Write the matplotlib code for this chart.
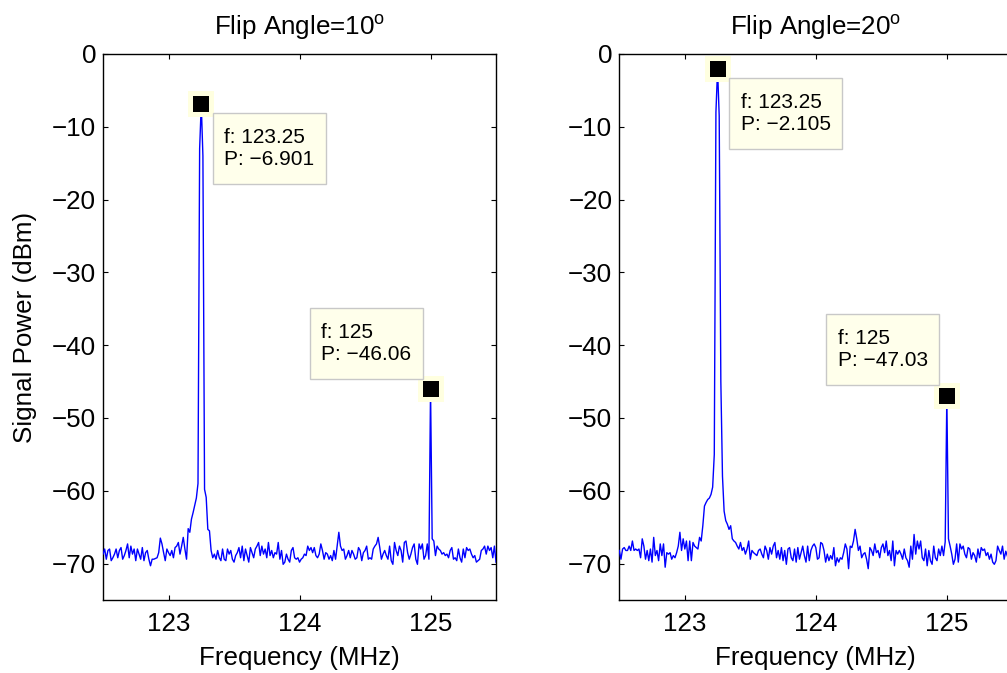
import numpy as np
import matplotlib
matplotlib.use('Agg')
import matplotlib.pyplot as plt

plt.rcParams['font.family'] = ['Liberation Sans', 'DejaVu Sans']
plt.rcParams['mathtext.fontset'] = 'custom'
plt.rcParams['mathtext.rm'] = 'Liberation Sans'

# spectrum analyser sweep, 122.5 - 125.5 MHz, 241 points
freq = np.linspace(122.5, 125.5, 241)

power_10 = [
    -68.7,
    -68.0, -69.4, -68.2, -68.0, -69.6, -69.2, -68.7, -68.0, -69.2, -68.2,
    -67.8, -69.4, -68.9, -68.2, -67.3, -69.2, -67.6, -68.7, -68.0, -69.6,
    -68.0, -68.7, -69.4, -67.8, -69.6, -68.5, -68.2, -69.4, -70.3, -69.4,
    -69.4, -69.3, -69.2, -68.5, -66.5, -67.3, -68.5, -69.6, -68.0, -68.5,
    -68.9, -68.2, -69.2, -67.8, -67.6, -67.1, -68.7, -67.6, -66.4, -68.0,
    -69.4, -65.2, -65.7, -63.9, -63.0,
    -62.0, -61.0, -59.0, -13.0, -6.901, -14.0, -59.8, -60.9, -65.3, -65.5, -68.2,
    -69.2, -68.7, -69.4, -68.2, -69.2, -69.6, -68.0, -69.4, -69.6, -68.0,
    -68.7, -68.2, -69.4, -69.8, -68.9, -68.5, -67.8, -69.2, -67.6, -69.6,
    -68.0, -68.9, -69.8, -67.8, -68.5, -69.2, -68.0, -67.6, -67.1, -68.9,
    -67.6, -68.7, -68.0, -69.2, -67.1, -68.9, -68.2, -69.2, -68.5, -68.7,
    -67.1, -69.4, -68.2, -70.1, -69.8, -68.7, -69.4, -69.8, -68.2, -67.8,
    -69.2, -69.4, -69.2,
    -69.8, -69.4, -69.2, -68.7, -68.9, -67.6, -68.2, -67.8, -68.5, -67.8,
    -68.9, -69.2, -68.7, -67.3, -68.2, -69.4, -68.5, -68.7, -69.4, -68.9,
    -69.6, -68.2, -69.4, -67.6, -65.7, -67.6, -68.2, -68.0, -69.4, -68.9,
    -68.2, -69.2, -68.2, -68.7, -69.4, -69.2, -67.8, -68.2, -69.6, -68.5,
    -68.2, -67.6, -69.4, -69.2, -69.4, -68.0, -67.6, -67.3, -66.4, -67.8,
    -69.4, -68.7, -68.2, -68.9, -69.4, -67.6, -69.6, -70.1, -67.1, -68.2,
    -68.9, -67.6, -68.2, -69.8, -67.1, -66.9, -68.5, -69.4, -68.7, -67.8,
    -67.3, -69.4, -70.1, -67.3, -68.0, -67.3, -69.4,
    -68.9, -67.3, -69.4, -46.06,
    -66.6, -66.9, -68.9, -67.6, -68.0, -68.2, -68.7, -68.5, -68.9, -68.7,
    -69.2, -68.2, -67.8, -69.4, -69.2, -69.6, -68.0, -69.2, -69.8, -68.0,
    -69.2, -67.8, -68.2, -68.0, -68.7, -69.2, -68.9, -69.8, -69.6, -69.4,
    -68.2, -68.0, -67.6, -68.7, -67.6, -68.2, -67.8, -69.2, -67.6, -69.8,
]

power_20 = [
    -68.2, -69.4, -68.0, -67.8, -68.2, -68.2, -67.6, -68.2, -66.9, -68.2,
    -68.0, -68.2, -68.0, -69.2, -66.6, -67.6, -69.4, -68.2, -69.6, -68.0,
    -69.8, -66.4, -68.9, -68.2, -69.6, -67.3, -68.9, -67.3, -70.5, -68.5,
    -68.7, -68.5, -69.4, -68.9, -69.2, -68.5, -67.6, -65.7, -68.2, -66.6,
    -68.0, -66.9, -69.6, -66.9, -69.6, -67.1, -67.6, -67.8, -68.0, -66.4,
    -66.9, -64.8, -62.1, -61.6, -61.2,
    -61.0, -60.5, -59.5, -55.0, -8.0, -2.105, -8.5, -45.0, -58.0, -62.8,
    -64.1, -64.6, -65.3, -64.8, -66.6,
    -66.9, -67.1, -67.6, -68.0, -67.1, -68.2, -67.8, -68.7, -68.0, -66.9,
    -69.4, -68.2, -68.5, -68.7, -68.9, -68.2, -68.0, -68.7, -69.2, -67.6,
    -68.2, -69.4, -67.8, -68.7, -67.6, -67.1, -69.2, -68.2, -69.4, -67.8,
    -69.6, -68.2, -70.1, -68.0, -67.8, -69.2, -69.6, -68.0, -69.8, -67.8,
    -69.4, -68.5, -67.6, -68.9, -69.8, -67.6, -69.6, -68.2, -67.6, -67.3,
    -67.8, -69.4, -69.2, -67.1, -67.3, -68.2, -69.8, -68.7, -69.6, -68.9,
    -69.4, -67.8, -70.3, -69.2, -69.8, -69.2, -69.4, -68.5, -67.3, -68.0,
    -70.7, -67.6, -67.8, -66.9, -65.3, -66.6, -68.2, -67.6, -69.2, -68.7,
    -68.5, -69.4, -70.7, -67.8, -68.2, -68.9, -67.3, -68.5, -68.2, -69.2,
    -67.8, -67.3, -68.5, -66.9, -68.9, -68.2, -69.6, -66.9, -70.3, -68.2,
    -68.7, -68.2, -68.7, -69.4, -68.0, -69.2, -69.6, -70.5, -67.6, -69.4,
    -66.0, -68.7, -66.9, -68.0, -66.9, -69.2, -69.6, -68.0, -70.3, -68.2,
    -69.6, -70.1, -67.6, -69.2, -69.6, -68.0, -68.9, -67.6,
    -68.9, -67.0, -47.03, -66.6,
    -67.6, -68.7, -70.1, -69.4, -67.3, -69.8, -67.3, -68.0, -67.6, -68.7,
    -69.2, -67.8, -68.0, -69.4, -68.5, -68.9, -69.8, -68.0, -69.2, -67.8,
    -68.2, -68.0, -68.9, -68.5, -69.4, -68.7, -69.8, -70.1, -69.6, -67.6,
    -68.2, -68.7, -67.6, -69.4,
    -68.3, -69.0, -67.9, -68.6, -69.3,
]

titles = ['Flip Angle=10$^{\\mathrm{o}}$', 'Flip Angle=20$^{\\mathrm{o}}$']
# (freq index, text offset in pixels from the marker)
tips = [[(60, (23, -24)), (200, (-19, 25))],
        [(60, (23, -24)), (200, (-19, 26))]]

fig = plt.figure(figsize=(10.07, 6.73), dpi=100)
ax1 = fig.add_axes([0.1023, 0.1085, 0.3903, 0.8113])
ax2 = fig.add_axes([0.615, 0.1085, 0.3903, 0.8113])


def datatip(ax, f, p, offset):
    ax.plot(f, p, 's', ms=19.4, mew=0, color='#FFFFE0', zorder=4)
    ax.plot(f, p, 's', ms=11.5, mew=0, color='black', zorder=5)
    label = 'f: %g\nP: %s' % (f, ('%.4g' % p).replace('-', '\u2212'))
    if offset[0] > 0:
        ha, va = 'left', 'top'
    else:
        ha, va = 'right', 'bottom'
    ax.annotate(label, (f, p), xytext=offset, textcoords='offset pixels',
                ha=ha, va=va, multialignment='left', fontsize=15, zorder=6,
                bbox=dict(boxstyle='square,pad=0.55', mutation_aspect=1.3,
                          fc='#FFFFEB', ec='#C8C8C8', lw=1.0))


for ax, power, title, tip in zip([ax1, ax2], [power_10, power_20], titles, tips):
    ax.plot(freq, power, color='#0000FF', lw=1.0, zorder=3)
    for idx, offset in tip:
        datatip(ax, round(freq[idx], 4), power[idx], offset)
    ax.set_xlim(122.5, 125.5)
    ax.set_ylim(-75, 0)
    ax.set_xticks([123, 124, 125])
    ax.set_yticks([-70, -60, -50, -40, -30, -20, -10, 0])
    ax.tick_params(direction='in', length=3.6, width=0.8, top=True, right=True,
                   labelsize=18.7, pad=5)
    ax.tick_params(axis='x', pad=9)
    for s in ax.spines.values():
        s.set_linewidth(1.0)
    ax.set_title(title, fontsize=18.7, pad=14)
    ax.set_xlabel('Frequency (MHz)', fontsize=18.7)
    ax.xaxis.set_label_coords(0.5, -0.084)

ax1.set_ylabel('Signal Power (dBm)', fontsize=18.7)
ax1.yaxis.set_label_coords(-0.168, 0.5)

fig.savefig('out.png', dpi=100)
